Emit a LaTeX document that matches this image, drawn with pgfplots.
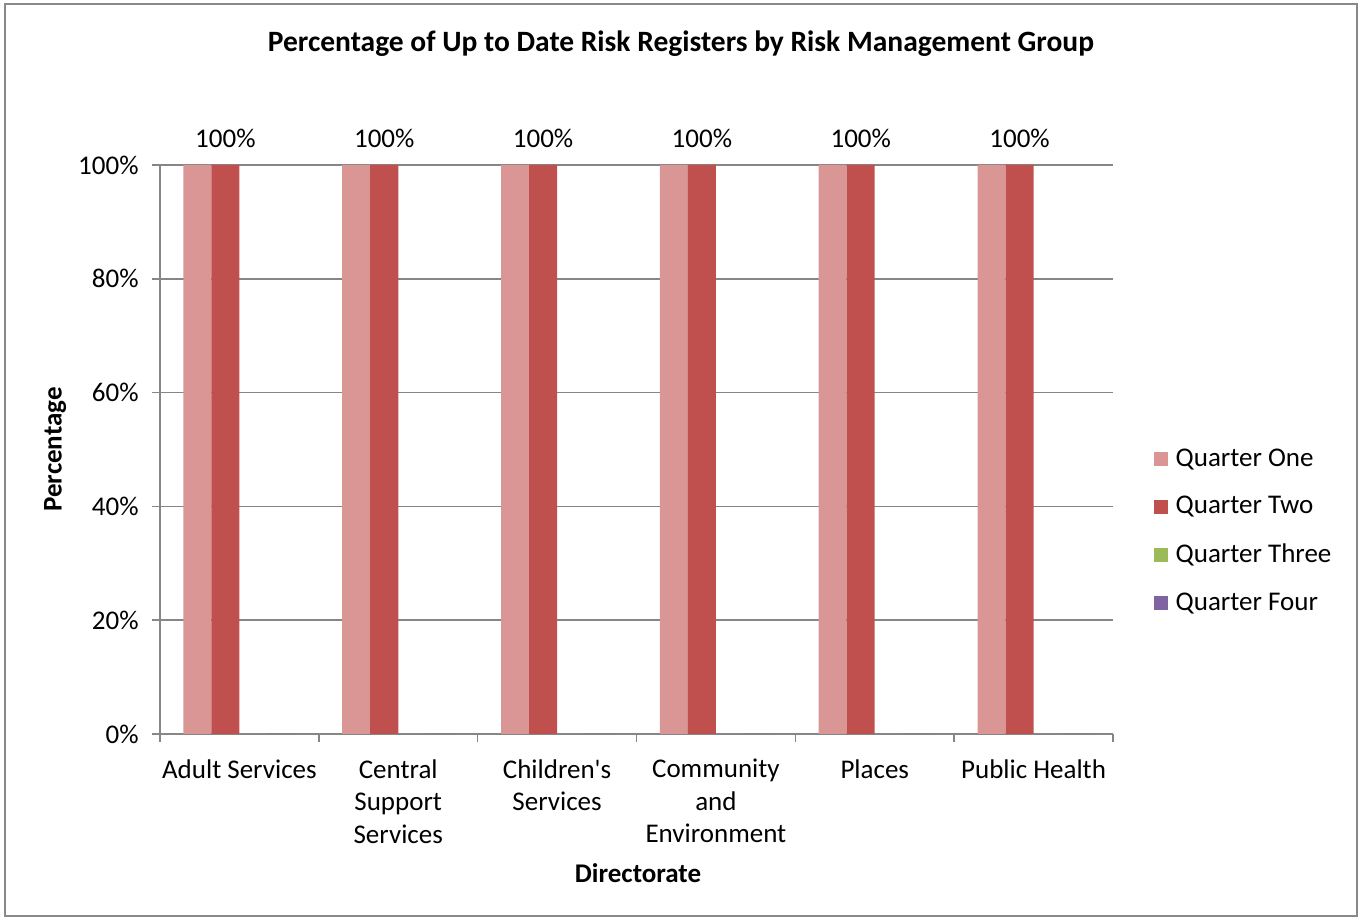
\documentclass[border=0pt]{standalone}
\usepackage{pgfplots}
\pgfplotsset{compat=1.18}
\usepackage{fontspec}
\setmainfont{Carlito}

\definecolor{qone}{RGB}{217,150,148}
\definecolor{qtwo}{RGB}{192,80,77}
\definecolor{qthree}{RGB}{155,187,89}
\definecolor{qfour}{RGB}{128,100,162}
\definecolor{gridgray}{RGB}{134,134,134}
\definecolor{framegray}{RGB}{137,137,137}

% Share of up-to-date risk registers per directorate (percent)
\pgfplotstableread{
x q1 q2 q3 q4
0 100 100 0 0
1 100 100 0 0
2 100 100 0 0
3 100 100 0 0
4 100 100 0 0
5 100 100 0 0
}\registers

\begin{document}
\fontsize{13.5}{16.25}\selectfont
\begin{tikzpicture}
% chart area frame
\path[use as bounding box] (0pt,0pt) rectangle (681pt,460pt);
\draw[framegray, line width=1.2pt] (2.5pt,2pt) rectangle (678.5pt,458pt);
\node[font=\bfseries\fontsize{14.75}{17}\selectfont] at (340.5pt,438pt) {Percentage of Up to Date Risk Registers by Risk Management Group};

\begin{axis}[
  at={(80pt,93pt)}, anchor=south west,
  scale only axis,
  width=476.5pt, height=284.5pt,
  ybar=0pt, bar width=14pt,
  xmin=-0.5, xmax=5.5,
  ymin=0, ymax=100,
  xtick={0,...,5},
  xticklabels={Adult Services, Central\\Support\\Services, Children\textquotesingle s\\Services, Community\\and\\Environment, Places, Public Health},
  x tick label style={align=center, font=\fontsize{13.5}{16.25}\selectfont, yshift=-4pt},
  major x tick style={draw=none},
  minor xtick={-0.5,0.5,...,5.5},
  minor x tick style={gridgray, line width=0.8pt},
  ytick={0,20,...,100},
  yticklabel={\pgfmathprintnumber{\tick}\%},
  y tick label style={font=\fontsize{13.5}{16.25}\selectfont, xshift=-2pt},
  /pgf/number format/assume math mode=true,
  tick align=outside,
  major tick length=4pt, minor tick length=4pt,
  y tick style={gridgray, line width=0.8pt},
  ymajorgrids,
  grid style={gridgray, line width=0.8pt},
  axis x line*=bottom, axis y line*=left,
  axis line style={gridgray, line width=0.8pt, -},
  xlabel={\textbf{Directorate}},
  ylabel={\textbf{Percentage}},
  xlabel style={at={(axis description cs:0.5016,-0.244)}, anchor=center},
  ylabel style={at={(axis description cs:-0.110,0.5)}, anchor=center, rotate=0},
  label style={font=\fontsize{13.5}{16.25}\selectfont},
  legend style={at={(axis description cs:1.036,0.356)}, anchor=west, draw=none,
    font=\fontsize{13.5}{16.25}\selectfont, row sep=9pt, cells={anchor=west}},
  legend image code/.code={\fill[#1] (1pt,-3.5pt) rectangle (8pt,3.5pt); \path (10pt,0pt);},
  clip=false,
]
\addplot[fill=qone, draw=none] table[x=x, y=q1] {\registers};
\addplot[fill=qtwo, draw=none,
  nodes near coords={\pgfmathprintnumber{\pgfplotspointmeta}\%},
  nodes near coords style={anchor=center, yshift=13.5pt, text=black, font=\fontsize{13.5}{16.25}\selectfont, /pgf/number format/assume math mode=true}]
  table[x=x, y=q2] {\registers};
\addplot[fill=qthree, draw=none] table[x=x, y=q3] {\registers};
\addplot[fill=qfour, draw=none] table[x=x, y=q4] {\registers};
\legend{Quarter One, Quarter Two, Quarter Three, Quarter Four}
\end{axis}
\end{tikzpicture}
\end{document}
